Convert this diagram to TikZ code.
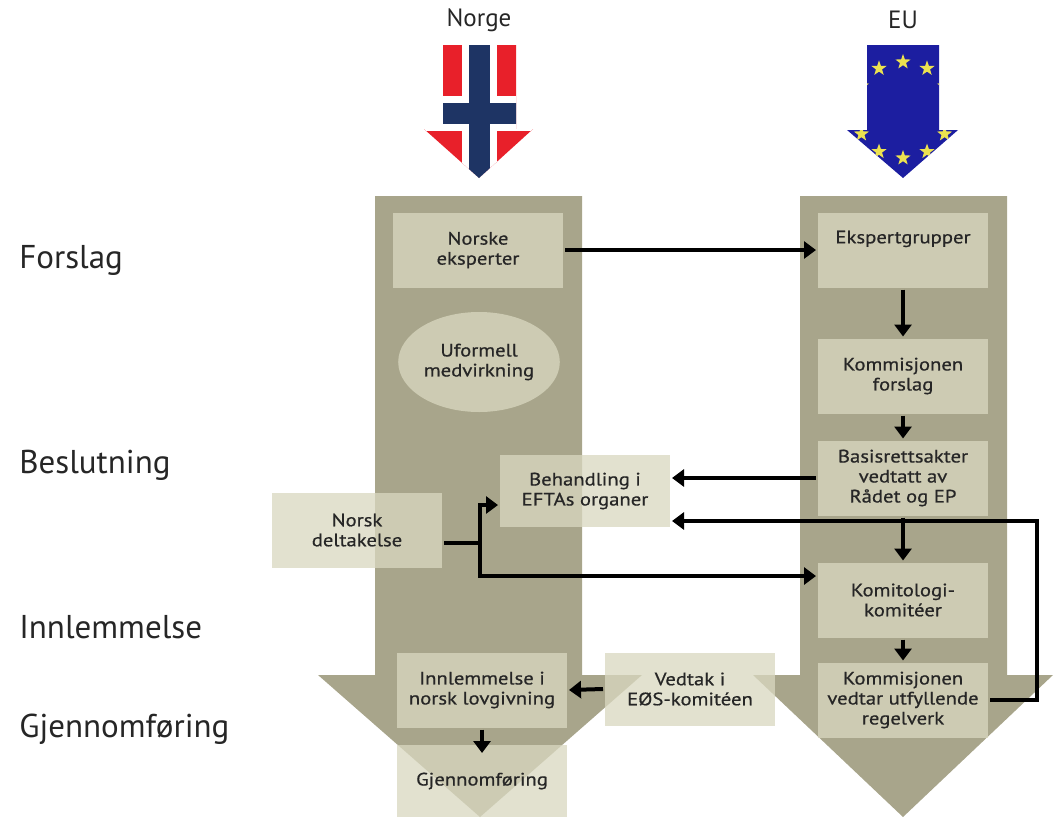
\documentclass[tikz,border=0pt]{standalone}
\usepackage{fontspec}
\setmainfont{PT Sans}
\newfontfamily\boxfont[FakeStretch=1.15,FakeBold=0.6]{PT Sans}
\usepackage{tikz}
\usetikzlibrary{arrows.meta,shapes.geometric,positioning,calc}
\definecolor{khaki}{RGB}{168,165,139}
\definecolor{boxfill}{RGB}{217,216,192}
\definecolor{flagred}{RGB}{232,32,42}
\definecolor{flagblue}{RGB}{30,52,100}
\definecolor{eublue}{RGB}{28,30,160}
\definecolor{eustar}{RGB}{236,226,80}

\begin{document}
\begin{tikzpicture}[
    x=1pt, y=-1pt,
    line width=4pt,
    %
    colfill/.style={fill=khaki, draw=none},
    box/.style={fill=boxfill, fill opacity=0.76, text opacity=1, draw=none,
                minimum width=170pt, minimum height=75pt, inner sep=2pt,
                align=center, text=black!85,
                font=\boxfont\fontsize{18}{20}\selectfont},
    oval/.style={box, ellipse, minimum width=158pt, minimum height=100pt},
    phase/.style={anchor=base west, text=black!85,
                  font=\fontsize{33}{36}\selectfont},
    flagname/.style={text=black!85, font=\fontsize{25}{28}\selectfont},
    eustarnode/.style={star, star points=5, star point ratio=2.5,
                       fill=eustar, draw=none, minimum size=16pt, inner sep=0pt},
    %
    pre/.style={-{Triangle[length=12pt,width=17pt]}, line width=4pt}
    ]

    \useasboundingbox (0,0) rectangle (1057,817);

    % the two big columns
    \fill[colfill] (375,196) -- (582,196) -- (582,675) -- (642,675) -- (480,817)
                   -- (318,675) -- (375,675) -- cycle;
    \fill[colfill] (800,196) -- (1007,196) -- (1007,675) -- (1053,675) -- (903,817)
                   -- (753,675) -- (800,675) -- cycle;

    % Norge
    \begin{scope}
        \clip (443,45) -- (516,45) -- (516,129) -- (533,129) -- (479,178)
              -- (424,129) -- (443,129) -- cycle;
        \fill[flagred] (420,40) rectangle (540,180);
        \fill[white] (462,40) rectangle (497,180);
        \fill[white] (420,96) rectangle (540,131);
        \fill[flagblue] (469,40) rectangle (490,180);
        \fill[flagblue] (420,103) rectangle (540,124);
    \end{scope}
    % EU
    \begin{scope}
        \clip (867,45) -- (939,45) -- (939,130) -- (958,130) -- (903,178)
              -- (847,130) -- (867,130) -- cycle;
        \fill[eublue] (840,40) rectangle (965,180);
        \foreach \a in {0,30,...,330}
            \node[eustarnode] at ({903+48*cos(\a)},{110+48*sin(\a)}) {};
    \end{scope}

    \node[flagname] (norge) at (479,20) {Norge};
    \node[flagname] (eu)    at (903,20) {EU};

    % phases
    \node[phase] (forslag)     at (14,268) {Forslag};
    \node[phase] (beslutning)  at (14,473) {Beslutning};
    \node[phase] (innlem)      at (14,638) {Innlemmelse};
    \node[phase] (gjennomf)    at (14,737) {Gjennomføring};

    % Norge side
    \node[box] (norske)      at (478,250) {Norske\\eksperter};
    \node[oval] (uformell)   at (479,362) {Uformell\\medvirkning};
    \node[box, minimum height=72pt] (behandling) at (585,491) {Behandling i\\EFTAs organer};
    \node[box] (norsk)       at (357,530) {Norsk\\deltakelse};
    \node[box] (innlemmelse) at (482,690) {Innlemmelse i\\norsk lovgivning};
    \node[box, minimum height=72pt] (gjennom) at (482,781) {Gjennomføring};
    \node[box, minimum height=73pt] (vedtak)  at (690,689) {Vedtak i\\EØS-komitéen};

    % EU side
    \node[box] (ekspert)    at (903,250) {Ekspertgrupper\\\strut};
    \node[box] (kforslag)   at (903,376) {Kommisjonen\\forslag};
    \node[box] (basis)      at (903,478) {Basisrettsakter\\vedtatt av\\Rådet og EP};
    \node[box] (komitologi) at (903,600) {Komitologi-\\komitéer};
    \node[box] (kvedtar)    at (903,700) {Kommisjonen\\vedtar utfyllende\\regelverk};

    % connectors
    \draw[pre] (norske.east) -- (ekspert.west);
    \draw[pre] (ekspert.south) -- (kforslag.north);
    \draw[pre] (kforslag.south) -- (basis.north);
    \draw[pre] (basis.west) -- (basis.west -| behandling.east);
    \draw[pre] (basis.south) -- (komitologi.north);
    \draw[pre] (komitologi.south) -- (kvedtar.north);
    \draw[pre] (kvedtar.east) -- ++(47,0) |- ([yshift=-30pt]behandling.east);
    \draw ([yshift=-13pt]norsk.east) -- ++(36,0) coordinate (split);
    \draw[pre] (split) |- ([yshift=-14pt]behandling.west);
    \draw[pre] (split) |- ([yshift=24pt]komitologi.west);
    \draw[pre] (vedtak.west) -- (innlemmelse.east);
    \draw[pre] (innlemmelse.south) -- ([yshift=-10pt]gjennom.north);
    %
\end{tikzpicture}
\end{document}
